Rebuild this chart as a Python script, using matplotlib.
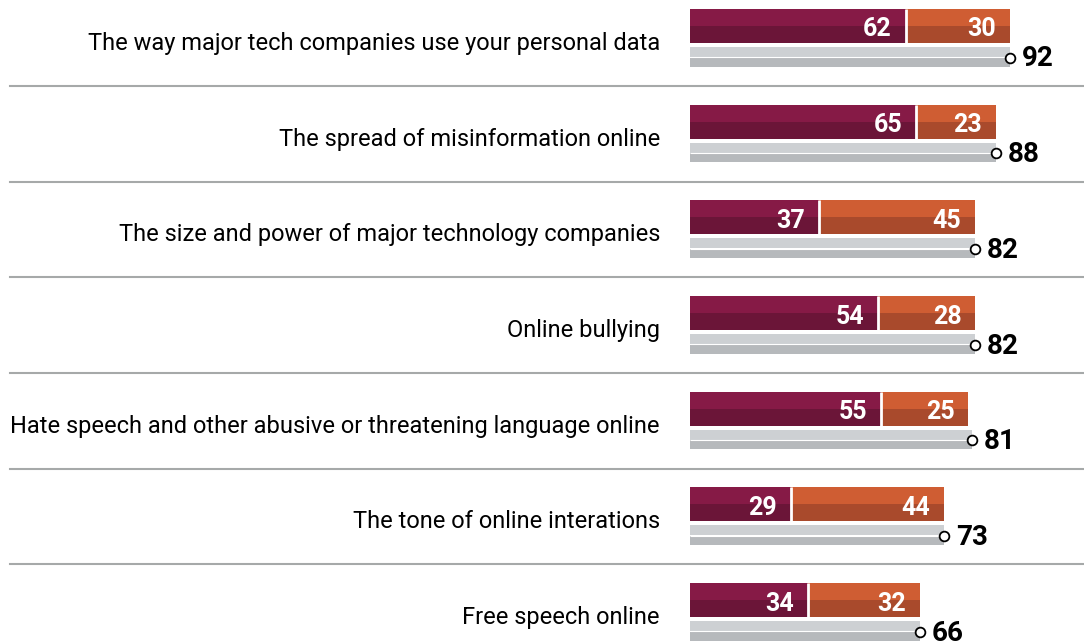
import matplotlib.pyplot as plt
import numpy as np

labels = ['The way major tech companies use your personal data',
          'The spread of misinformation online',
          'The size and power of major technology companies',
          'Online bullying',
          'Hate speech and other abusive or threatening language online',
          'The tone of online interations',
          'Free speech online']
major = [62, 65, 37, 54, 55, 29, 34]
minor = [30, 23, 45, 28, 25, 44, 32]
total = [92, 88, 82, 82, 81, 73, 66]

# colours
mag_top, mag_bot = '#861a46', '#6b1538'
org_top, org_bot = '#cf5d33', '#a94a2c'
gry_top, gry_bot = '#cdd0d3', '#b6b9bc'
sep_col = '#a6a9a9'

W, H = 1084, 642
px = 320 / 92.0          # pixels per percentage point
x0 = 690                 # pixel where 0 sits
row_h = 95.67

plt.rcParams['font.family'] = ['Roboto', 'DejaVu Sans']

fig = plt.figure(figsize=(W / 100, H / 100), dpi=100)
ax = fig.add_axes([0, 0, 1, 1])
ax.set_xlim(-x0 / px, (W - x0) / px)
ax.set_ylim(H, 0)
ax.axis('off')

for i, lab in enumerate(labels):
    y = 9 + row_h * i
    m, o, t = major[i], minor[i], total[i]
    # stacked coloured bar, two tones
    ax.barh(y + 8.5, m, height=17, left=0, color=mag_top, linewidth=0)
    ax.barh(y + 25.5, m, height=17, left=0, color=mag_bot, linewidth=0)
    ax.barh(y + 8.5, o, height=17, left=m, color=org_top, linewidth=0)
    ax.barh(y + 25.5, o, height=17, left=m, color=org_bot, linewidth=0)
    ax.vlines(m, y, y + 34, color='white', lw=2)
    ax.text(m - 4, y + 27.5, str(m), ha='right', va='baseline', color='white',
            fontsize=18, fontweight='bold')
    ax.text(m + o - 4, y + 27.5, str(o), ha='right', va='baseline', color='white',
            fontsize=18, fontweight='bold')
    # total bar
    ax.barh(y + 43, t, height=10, left=0, color=gry_top, linewidth=0)
    ax.barh(y + 53, t, height=9, left=0, color=gry_bot, linewidth=0)
    ax.hlines(y + 48.3, 0, t, color='white', lw=0.8)
    ax.plot(t, y + 48.5, 'o', ms=7, mfc='white', mec='black', mew=1.3, zorder=5)
    ax.text(t + 3.4, y + 57.5, str(t), ha='left', va='baseline', color='black',
            fontsize=20, fontweight='bold')
    # category label
    ax.text(-30 / px, y + 41, lab, ha='right', va='baseline', color='black',
            fontsize=17)
    # separator
    if i < len(labels) - 1:
        ax.plot([-(x0 - 10) / px, (W - x0) / px], [y + 77, y + 77],
                color=sep_col, lw=1.5)

fig.savefig('out.png', dpi=100)
